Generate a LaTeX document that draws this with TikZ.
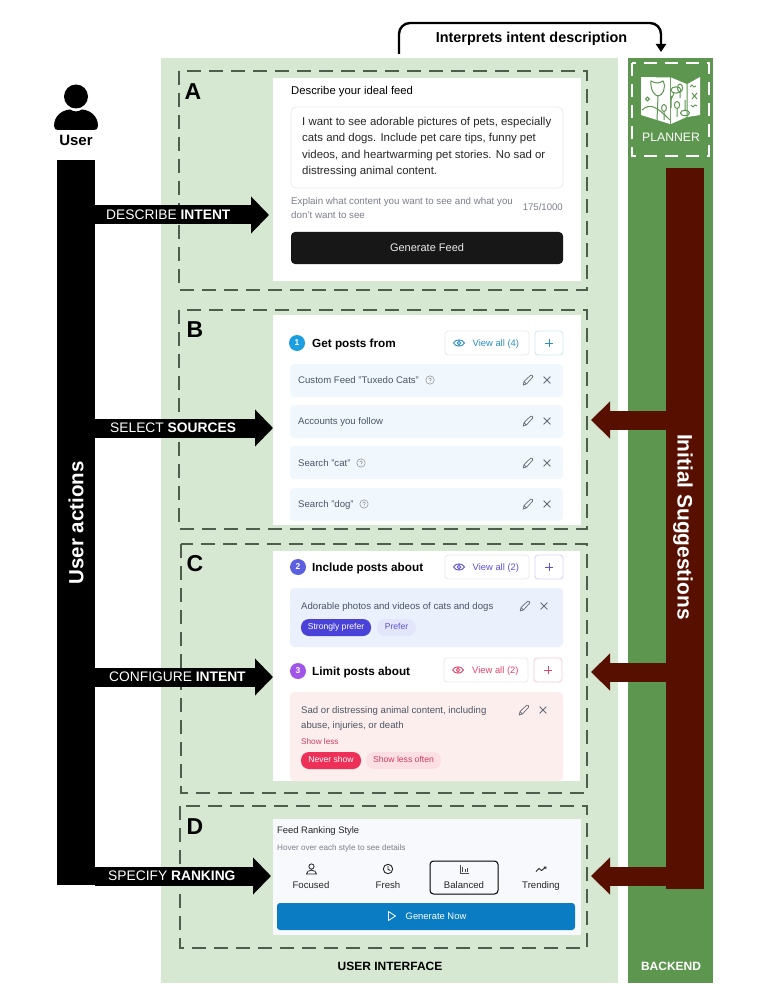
\documentclass[tikz,border=0pt]{standalone}
\usepackage{fontspec}
\setmainfont{Liberation Sans}
\usetikzlibrary{arrows.meta}
\definecolor{lightgr}{HTML}{D7E8D2}
\definecolor{darkgr}{HTML}{5C964F}
\definecolor{barred}{HTML}{570F00}
\definecolor{dashgr}{HTML}{4F5D4C}
\definecolor{greyt}{HTML}{4B5563}
\definecolor{icong}{HTML}{666B75}
\definecolor{hint}{HTML}{7C7F8C}
\definecolor{blu}{HTML}{2B8FC4}
\definecolor{ind}{HTML}{5B50D8}
\definecolor{rosec}{HTML}{E8446A}
\definecolor{rowblue}{HTML}{F0F7FD}
\definecolor{rowind}{HTML}{EBF0FD}
\definecolor{rowred}{HTML}{FDEEEE}
\definecolor{panelgrey}{HTML}{F8F9FC}
\definecolor{nblue}{HTML}{1C9FE0}
\definecolor{nind}{HTML}{5C60E0}
\definecolor{nvio}{HTML}{A055E8}
\definecolor{genblue}{HTML}{0A7CC4}
\definecolor{pillind}{HTML}{4A41D8}
\definecolor{pillindl}{HTML}{E3E6FB}
\definecolor{pillred}{HTML}{EE3058}
\definecolor{pillredl}{HTML}{FBDFE3}
\newcommand{\uibox}[7][]{%
 \pgfmathsetmacro{\cxx}{(#3+#5)/2}\pgfmathsetmacro{\cyy}{(#4+#6)/2}%
 \pgfmathsetmacro{\www}{#5-#3}\pgfmathsetmacro{\hhh}{#6-#4}%
 \node[inner sep=0pt,outer sep=0pt,minimum width=\www pt,minimum height=\hhh pt,#1] (#2) at (\cxx,\cyy) {#7};}
\newcommand{\vph}{\vphantom{Ag}}
\tikzset{
 x=1pt,y=-1pt,
 fs/.style={font=\fontsize{#1}{#1}\selectfont},
 lt/.style={inner sep=0pt,anchor=west,yshift=-1pt},
 dbox/.style={draw=dashgr,line width=1.8pt,dash pattern=on 14pt off 8pt},
 bigarrow/.style={line width=19pt,-{Triangle[length=18pt,width=36pt]}},
 redarrow/.style={line width=19pt,barred,-{Triangle[length=19pt,width=36pt]}},
 panel/.style={fill=white},
 rowb/.style={fill=#1,rounded corners=4pt},
 btn/.style={fill=white,draw=#1,line width=.8pt,rounded corners=3pt},
 pill/.style={fill=#1,rounded corners=8pt,fs=8.6},
 pics/eyei/.style={code={\draw[#1,line width=.9pt] (-5.5,0) .. controls (-3,-4.2) and (3,-4.2) .. (5.5,0) .. controls (3,4.2) and (-3,4.2) .. (-5.5,0) (0,0) circle (1.8);}},
 pics/plusi/.style={code={\draw[#1,line width=1pt] (-4,0) -- (4,0) (0,-4) -- (0,4);}},
 pics/crossi/.style={code={\draw[#1,line width=.8pt] (-3.4,-3.4) -- (3.4,3.4) (-3.4,3.4) -- (3.4,-3.4);}},
 pics/penci/.style={code={\draw[#1,line width=.7pt,line join=round] (-4.8,5) -- (-4,1.6) -- (2.6,-4.8) .. controls (3.8,-5.6) and (5.4,-4) .. (4.6,-2.8) -- (-1.6,4) -- cycle (-4,1.6) -- (-1.6,4);}},
 pics/helpi/.style={code={\draw[#1,line width=.6pt] (0,0) circle (4.2);\draw[#1,line width=.6pt] (-1.3,-1) .. controls (-1.2,-2.6) and (1.5,-2.6) .. (1.4,-.9) .. controls (1.3,0) and (0,0) .. (0,1.1) (0,2) -- (0,2.6);}},
}
\begin{document}
\begin{tikzpicture}
\useasboundingbox (0,0) rectangle (761,1000);
\fill[white] (0,0) rectangle (761,1000);
% regions
\uibox[fill=lightgr]{uiregion}{161}{58}{618}{983}{}
\uibox[fill=darkgr]{backend}{628}{58}{713}{983}{}
\node[font=\fontsize{12}{12}\selectfont\bfseries] (uilabel) at (390,966) {USER INTERFACE};
\node[white,font=\fontsize{12}{12}\selectfont\bfseries] (belabel) at (671,966) {BACKEND};
% panels
\uibox[panel]{panelA}{273}{78}{581}{281}{}
\uibox[panel]{panelB}{273}{315}{581}{525}{}
\uibox[panel]{panelC}{273}{551}{580}{781}{}
\uibox[fill=panelgrey]{panelD}{273}{819}{581}{935}{}
% dashed sections
\draw[dbox] (179,71) rectangle (587,290);
\draw[dbox] (179,310) rectangle (587,529);
\draw[dbox] (181,544) rectangle (587,793);
\draw[dbox] (180,806) rectangle (587,948);
\node[font=\fontsize{23}{23}\selectfont\bfseries] (lA) at (193,92) {A};
\node[font=\fontsize{23}{23}\selectfont\bfseries] (lB) at (195,330) {B};
\node[font=\fontsize{23}{23}\selectfont\bfseries] (lC) at (195,564) {C};
\node[font=\fontsize{23}{23}\selectfont\bfseries] (lD) at (195,827) {D};
% panel A
\node[lt,fs=11.3] (a1) at (291,91) {\vph Describe your ideal feed};
\uibox[fill=white,draw=black!8,line width=.8pt,rounded corners=5pt]{tarea}{291}{107}{563}{188}{}
\node[lt,fs=11.4,black!85] (a2) at (302,122) {\vph I want to see adorable pictures of pets, especially};
\node[lt,fs=11.4,black!85] (a3) at (302,138) {\vph cats and dogs. Include pet care tips, funny pet};
\node[lt,fs=11.4,black!85] (a4) at (302,155) {\vph videos, and heartwarming pet stories. No sad or};
\node[lt,fs=11.4,black!85] (a5) at (302,171) {\vph distressing animal content.};
\node[lt,fs=9.75,hint] (a6) at (291,201) {\vph Explain what content you want to see and what you};
\node[lt,fs=9.75,hint] (a7) at (291,215) {\vph don't want to see};
\node[inner sep=0pt,anchor=east,yshift=-1pt,fs=9.6,hint] (a8) at (563,207) {\vph 175/1000};
\uibox[fill=black!91,rounded corners=4pt,text=white!92!black,fs=11]{genfeed}{291}{232}{563}{264}{}
\node[white!92!black,fs=11,inner sep=0pt,yshift=-1pt] (genfeedt) at (427,247.5) {\vph Generate Feed};
% panel B
\uibox[fill=nblue,circle,text=white,font=\fontsize{8.5}{8.5}\selectfont\bfseries]{n1}{289}{335}{305}{351}{1}
\node[lt,font=\fontsize{11.75}{11.75}\selectfont\bfseries] (t1) at (312,343) {\vph Get posts from};
\uibox[btn=black!8]{v1}{445}{331}{529}{355}{}
\pic at (459,343) {eyei=blu};
\node[lt,fs=9.4,blu] (v1t) at (472.5,343) {\vph View all (4)};
\uibox[btn=blu!22]{p1}{535}{331}{563}{355}{}
\pic at (549,343) {plusi=blu};
\uibox[rowb=rowblue]{r1}{290}{364}{563}{397}{}
\uibox[rowb=rowblue]{r2}{290}{405}{563}{438}{}
\uibox[rowb=rowblue]{r3}{290}{446}{563}{479}{}
\uibox[rowb=rowblue]{r4}{290}{488}{563}{521}{}
\node[lt,fs=9.6,greyt] (r1t) at (298,380) {\vph Custom Feed "Tuxedo Cats"};
\node[lt,fs=9.6,greyt] (r2t) at (298,421) {\vph Accounts you follow};
\node[lt,fs=9.6,greyt] (r3t) at (298,463) {\vph Search "cat"};
\node[lt,fs=9.6,greyt] (r4t) at (298,504) {\vph Search "dog"};
\pic at (430,380) {helpi=black!40};
\pic at (361,463) {helpi=black!40};
\pic at (364,504) {helpi=black!40};
\foreach \yy in {380,421,463,504}{
 \pic at (528,\yy) {penci=icong};
 \pic at (547,\yy) {crossi=icong};
}
% panel C
\uibox[fill=nind,circle,text=white,font=\fontsize{8.5}{8.5}\selectfont\bfseries]{n2}{290}{559}{306}{575}{2}
\node[lt,font=\fontsize{11.75}{11.75}\selectfont\bfseries] (t2) at (312,567) {\vph Include posts about};
\uibox[btn=black!8]{v2}{445}{555}{529}{579}{}
\pic at (459,567) {eyei=ind};
\node[lt,fs=9.4,ind] (v2t) at (472.5,567) {\vph View all (2)};
\uibox[btn=ind!25]{p2}{535}{555}{563}{579}{}
\pic at (549,567) {plusi=ind};
\uibox[rowb=rowind]{r5}{290}{588}{563}{647}{}
\node[lt,fs=9.6,greyt] (r5t) at (301,606) {\vph Adorable photos and videos of cats and dogs};
\pic at (525,606) {penci=icong};
\pic at (544,606) {crossi=icong};
\uibox[pill=pillind,text=white]{s1}{301}{619}{371}{636}{\vph Strongly prefer}
\uibox[pill=pillindl,text=ind]{s2}{377}{619}{416}{636}{\vph Prefer}
\uibox[fill=nvio,circle,text=white,font=\fontsize{8.5}{8.5}\selectfont\bfseries]{n3}{290}{663}{306}{679}{3}
\node[lt,font=\fontsize{11.75}{11.75}\selectfont\bfseries] (t3) at (312,671) {\vph Limit posts about};
\uibox[btn=black!8]{v3}{444}{658}{528}{682}{}
\pic at (458,670) {eyei=rosec};
\node[lt,fs=9.4,rosec] (v3t) at (472,670) {\vph View all (2)};
\uibox[btn=rosec!30]{p3}{534}{658}{562}{682}{}
\pic at (548,670) {plusi=rosec};
\uibox[rowb=rowred]{r6}{290}{692}{563}{781}{}
\node[lt,fs=9.6,greyt] (r6a) at (301,710) {\vph Sad or distressing animal content, including};
\node[lt,fs=9.6,greyt] (r6b) at (301,725) {\vph abuse, injuries, or death};
\node[lt,fs=8.2,rosec!90!black] (r6c) at (301,741) {\vph Show less};
\pic at (524,710) {penci=icong};
\pic at (543,710) {crossi=icong};
\uibox[pill=pillred,text=white]{s3}{301}{752}{361}{769}{\vph Never show}
\uibox[pill=pillredl,text=rosec!90!black]{s4}{366}{752}{441}{769}{\vph Show less often}
% panel D
\node[lt,fs=9.4,black!85] (d1) at (277,830) {\vph Feed Ranking Style};
\node[lt,fs=8.1,hint] (d2) at (277,847) {\vph Hover over each style to see details};
\uibox[draw=black,line width=1pt,rounded corners=3.5pt]{sel}{430}{861}{498}{894}{}
\node[fs=9.6,black!85,inner sep=0pt,yshift=-1pt] (d3) at (311,885) {\vph Focused};
\node[fs=9.6,black!85,inner sep=0pt,yshift=-1pt] (d4) at (388,885) {\vph Fresh};
\node[fs=9.6,black!85,inner sep=0pt,yshift=-1pt] (d5) at (464,885) {\vph Balanced};
\node[fs=9.6,black!85,inner sep=0pt,yshift=-1pt] (d6) at (541,885) {\vph Trending};
\draw[black!85,line width=.8pt] (311.5,866.5) circle (2.6) (306.5,874) .. controls (306.5,869) and (316.5,869) .. (316.5,874) -- cycle;
\draw[black!85,line width=.9pt] (388,869) circle (4.7) (388,866) -- (388,869.3) -- (390.3,870.5);
\draw[black!70,line width=.7pt] (460,864.5) -- (460,873.5) -- (469,873.5) (462.5,872) -- (462.5,867) (465,872) -- (465,869) (467.5,872) -- (467.5,868);
\draw[black!85,line width=.9pt] (536,871.5) -- (539,868.5) -- (541.5,870.5) -- (546,867) (543.5,867) -- (546,867) -- (546,869);
\uibox[fill=genblue,rounded corners=3pt]{gennow}{277}{903}{575}{930}{}
\node[lt,fs=9.4,white] (gnt) at (405.5,916) {\vph Generate Now};
\draw[white,line width=.8pt,line join=round] (388.5,911.5) -- (395.5,916) -- (388.5,920.5) -- cycle;
% user
\node[fill=black,circle,inner sep=0pt,minimum size=24pt] (uhead) at (76,96.5) {};
\fill[black] (54,126) .. controls (54,116) and (62,110) .. (70,109.5) .. controls (74,112) and (78,112) .. (82,109.5) .. controls (90,110) and (98,116) .. (98,126) .. controls (98,129) and (96,130) .. (94,130) -- (58,130) .. controls (56,130) and (54,129) .. (54,126) -- cycle;
\node[font=\fontsize{15}{15}\selectfont\bfseries] (ulabel) at (76,140) {User};
\uibox[fill=black]{userbar}{57}{160}{95}{885}{}
\node[white,rotate=90,font=\fontsize{20.5}{20.5}\selectfont\bfseries] (uact) at (76,523) {User actions};
% planner
\draw[white,line width=1.6pt,dash pattern=on 13pt off 8pt] (632,63) rectangle (709,156);
\fill[white] (641,77) -- (670,77.5) -- (670,124) -- (641,115) -- cycle;
\fill[white] (671,77.5) -- (686.5,84) -- (686.5,117) -- (671,124) -- cycle;
\fill[white] (687.5,84) -- (700,77) -- (700,115) -- (687.5,117) -- cycle;
\begin{scope}[darkgr,line width=1pt]
\draw (651,81) .. controls (650,90) and (655,96) .. (658,96) .. controls (662,96) and (667,88) .. (663,81) .. controls (660,83) and (656,84) .. (651,81) -- cycle;
\draw (658,96) -- (657,120);
\draw (642,110) .. controls (650,103) and (656,106) .. (670,120);
\draw (647.5,99) circle (1.9);
\draw (676,90) ellipse (5 and 3.2);
\draw (671,96) -- (671,108) (674,93) -- (671,100);
\draw (680,88) ellipse (2.6 and 4) (680,92) -- (680,98);
\draw (664,108) ellipse (2.4 and 3.5) (664,112) -- (664,120);
\draw (677,105) ellipse (2.6 and 3.5) (677,109) -- (677,117);
\draw (685,113) ellipse (4.5 and 2.8) (685,100) -- (685,110);
\draw (692,93) -- (697,99) (697,93) -- (692,99);
\draw (690,87) -- (692,85) -- (694,87) -- (696,86);
\draw (691,105) -- (693,107) -- (695,105) -- (697,106);
\end{scope}
\node[white,fs=12.2] (plan) at (671,137) {PLANNER};
\uibox[fill=barred]{redbar}{666}{168}{704}{889}{}
\node[white,rotate=-90,font=\fontsize{20.9}{20.9}\selectfont\bfseries] (isug) at (683,527) {Initial Suggestions};
% top connector
\coordinate (ts) at (399,54);
\coordinate (tm) at (530,23);
\coordinate (te) at (661,52);
\draw[black,line width=2.4pt,rounded corners=11pt,-{Triangle[length=8pt,width=10pt]}] (ts) |- (tm) -| (te);
\node[font=\fontsize{14.4}{14.4}\selectfont\bfseries] (tlabel) at (531.5,39) {\vph Interprets intent description};
% arrows
\coordinate (aA) at (269,215);
\coordinate (aB) at (273,428);
\coordinate (aC) at (273,677);
\coordinate (aD) at (271,876);
\draw[bigarrow] (userbar.east |- aA) -- (aA);
\draw[bigarrow] (userbar.east |- aB) -- (aB);
\draw[bigarrow] (userbar.east |- aC) -- (aC);
\draw[bigarrow] (userbar.east |- aD) -- (aD);
\node[lt,white,fs=13.8] (lA1) at (106,215) {\vph DESCRIBE \textbf{INTENT}};
\node[lt,white,fs=13.8] (lB1) at (110,428) {\vph SELECT \textbf{SOURCES}};
\node[lt,white,fs=13.8] (lC1) at (109,677) {\vph CONFIGURE \textbf{INTENT}};
\node[lt,white,fs=13.8] (lD1) at (108,876) {\vph SPECIFY \textbf{RANKING}};
\coordinate (rB) at (591,420);
\coordinate (rC) at (591,672);
\coordinate (rD) at (591,876);
\draw[redarrow] (redbar.west |- rB) -- (rB);
\draw[redarrow] (redbar.west |- rC) -- (rC);
\draw[redarrow] (redbar.west |- rD) -- (rD);
\end{tikzpicture}
\end{document}
